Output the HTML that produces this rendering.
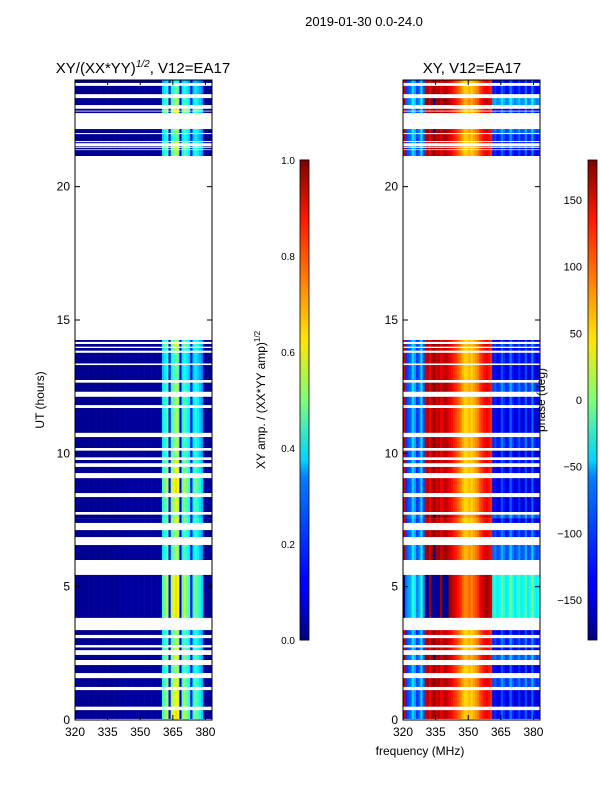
<!DOCTYPE html>
<html><head><meta charset="utf-8"><style>
body{margin:0;background:#fff;}
svg{display:block;font-family:"Liberation Sans","DejaVu Sans",sans-serif;}
</style></head><body>
<svg id="fig" width="600" height="800" viewBox="0 0 600 800">
<defs>
<linearGradient id="jet" x1="0" y1="1" x2="0" y2="0">
<stop offset="0" stop-color="#00007f"/><stop offset="0.11" stop-color="#0000ff"/>
<stop offset="0.125" stop-color="#0000ff"/><stop offset="0.34" stop-color="#0080ff"/>
<stop offset="0.375" stop-color="#00d4ff"/><stop offset="0.5" stop-color="#7dff7a"/>
<stop offset="0.625" stop-color="#ffe600"/><stop offset="0.75" stop-color="#ff8000"/>
<stop offset="0.875" stop-color="#ff1a00"/><stop offset="1" stop-color="#7f0000"/>
</linearGradient>
</defs>
<text x="364" y="26" font-size="13" text-anchor="middle">2019-01-30 0.0-24.0</text>
<text x="143" y="73" font-size="15" text-anchor="middle">XY/(XX*YY)<tspan dy="-6" font-size="10" font-style="italic">1/2</tspan><tspan dy="6">, V12=EA17</tspan></text>
<text x="472" y="73" font-size="15" text-anchor="middle">XY, V12=EA17</text>
<g id="left"></g>
<g id="right"></g>
<g id="axes"></g>
<rect x="300" y="160" width="9" height="480" fill="url(#jet)" stroke="#000" stroke-width="0.8"/>
<rect x="588" y="160" width="9" height="480" fill="url(#jet)" stroke="#000" stroke-width="0.8"/>
<text transform="translate(265,400) rotate(-90)" font-size="12" text-anchor="middle">XY amp. / (XX*YY amp)<tspan dy="-5" font-size="8">1/2</tspan></text>
<text transform="translate(545,400) rotate(-90)" font-size="12" text-anchor="middle">phase (deg)</text>
<text transform="translate(44,400) rotate(-90)" font-size="12" text-anchor="middle">UT (hours)</text>
<text x="420" y="755" font-size="12" text-anchor="middle">frequency (MHz)</text>
</svg>
<script>
const freqStart = [320];
const ampProfile = [0.02,0.02,0.02,0.02,0.02,0.02,0.02,0.02,0.02,0.02,0.02,0.02,0.02,0.02,0.02,0.02,0.02,0.02,0.02,0.02,0.03,0.03,0.03,0.03,0.03,0.03,0.03,0.03,0.03,0.03,0.03,0.03,0.03,0.03,0.03,0.03,0.03,0.03,0.03,0.03,0.4,0.45,0.5,0.12,0.5,0.55,0.6,0.55,0.12,0.45,0.5,0.45,0.4,0.12,0.4,0.45,0.4,0.35,0.3,0.03,0.02,0.02,0.02];
const phaseProfile = [150,-120,-110,-100,-60,-80,-120,-100,-60,-110,150,160,140,160,170,150,160,140,150,160,150,140,130,120,110,100,90,70,60,60,70,60,70,80,90,110,120,130,140,130,120,-140,-130,-150,-140,-110,-130,-150,-140,-100,-130,-150,-140,-120,-150,-140,-110,-150,-140,-100,-140,-150,-140];
const segStart = [23.89,23.47,23.06,22.85,22.76,22.01,21.71,21.63,21.48,21.40,21.15,14.18,14.0,13.85,13.37,12.75,12.31,11.81,10.77,10.2,9.85,9.63,9.26,8.51,7.8,7.57,7.39,6.86,6.0,3.83,3.19,2.81,2.62,2.25,1.76,1.24,0.5,0.04];
const segEnd   = [24.0,23.78,23.32,22.92,22.82,22.16,21.97,21.67,21.51,21.45,21.37,14.25,14.1,13.95,13.77,13.31,12.65,12.12,11.70,10.61,10.1,9.75,9.49,9.07,8.36,7.7,7.57,7.12,6.56,5.44,3.37,3.07,2.72,2.44,2.06,1.57,1.12,0.37];
const segAmpScale = [0.7,0.8,0.9,1.1,1,0.9,0.8,1,1,1,0.9,0.9,1,0.9,0.8,0.8,0.9,0.9,0.9,0.9,0.9,1,1,1.1,1,0.9,1,0.9,0.9,1.1,0.9,0.9,1,1,0.9,1,1.05,1.1];
const segPhaseShift = [0,10,60,0,20,40,20,0,30,0,10,0,20,0,10,0,30,10,0,20,0,10,0,0,0,40,0,20,40,100,0,20,0,40,0,30,0,10];
const yTicks = [0,5,10,15,20];
const xTicks = [320,335,350,365,380];
const ampTicks = [0.0,0.2,0.4,0.6,0.8,1.0];
const phaseTicks = [-150,-100,-50,0,50,100,150];

const NS='http://www.w3.org/2000/svg';
const P={top:80,bot:720,h0:0,h1:24,f0:320,f1:383};
const yS=h=>P.bot-(h-P.h0)/(P.h1-P.h0)*(P.bot-P.top);
function xS(x0,f){return x0+(f-P.f0)/(P.f1-P.f0)*137;}
function jet(v){v=Math.max(0,Math.min(1,v));
 const r=Math.max(0,Math.min(1,1.5-Math.abs(4*v-3))),g=Math.max(0,Math.min(1,1.5-Math.abs(4*v-2))),b=Math.max(0,Math.min(1,1.5-Math.abs(4*v-1)));
 return `rgb(${Math.round(r*255)},${Math.round(g*255)},${Math.round(b*255)})`;}
function mk(tag,at,par){const e=document.createElementNS(NS,tag);for(const k in at)e.setAttribute(k,at[k]);par.appendChild(e);return e;}
const L=document.getElementById('left'),R=document.getElementById('right'),A=document.getElementById('axes');
for(let s=0;s<segStart.length;s++){
 const y1=yS(segEnd[s]),y2=yS(segStart[s]);
 for(let i=0;i<ampProfile.length;i++){
  const f=freqStart[0]+i;
  const a=Math.min(1,ampProfile[i]*segAmpScale[s]);
  let r=mk('rect',{x:xS(75,f).toFixed(2),y:y1.toFixed(2),width:(137/63+0.3).toFixed(2),height:(y2-y1).toFixed(2),fill:jet(a)},L);
  
  
  let p=phaseProfile[i]+(f>=361?segPhaseShift[s]:segPhaseShift[s]*0.3);
  p=((p+180)%360+360)%360-180;
  let q=mk('rect',{x:xS(403,f).toFixed(2),y:y1.toFixed(2),width:(137/63+0.3).toFixed(2),height:(y2-y1).toFixed(2),fill:jet((p+180)/360)},R);
  
  
 }
}
[75,403].forEach((x0,k)=>{
 let fr=mk('rect',{x:x0,y:80,width:137,height:640,fill:'none',stroke:'#000','stroke-width':1},A);
 
 
 yTicks.forEach(t=>{const y=yS(t);
  mk('line',{x1:x0,x2:x0+5,y1:y,y2:y,stroke:'#000'},A);mk('line',{x1:x0+137,x2:x0+132,y1:y,y2:y,stroke:'#000'},A);
  let tx=mk('text',{x:x0-5,y:y+4,'font-size':12,'text-anchor':'end'},A);tx.textContent=t;
  
  });
 xTicks.forEach(t=>{const x=xS(x0,t);
  mk('line',{x1:x,x2:x,y1:720,y2:715,stroke:'#000'},A);mk('line',{x1:x,x2:x,y1:80,y2:85,stroke:'#000'},A);
  let tx=mk('text',{x:x,y:736,'font-size':12,'text-anchor':'middle'},A);tx.textContent=t;
  
  });
});
ampTicks.forEach(t=>{const y=640-t*480;
 mk('line',{x1:300,x2:309,y1:y,y2:y,stroke:'#000','stroke-width':0.8},A);
 let tx=mk('text',{x:295,y:y+4,'font-size':10,'text-anchor':'end'},A);tx.textContent=t.toFixed(1);
 
 });
phaseTicks.forEach(t=>{const y=640-(t+180)/360*480;
 mk('line',{x1:588,x2:597,y1:y,y2:y,stroke:'#000','stroke-width':0.8},A);
 let tx=mk('text',{x:582,y:y+4,'font-size':11,'text-anchor':'end'},A);tx.textContent=t<0?'\u2212'+(-t):t;
 
 });
</script>
</body></html>
